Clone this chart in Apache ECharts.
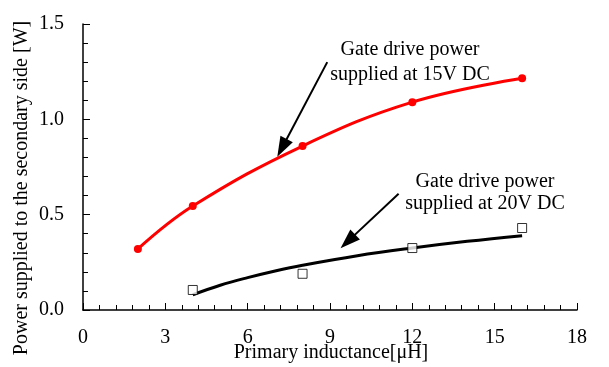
<!DOCTYPE html>
<html><head><meta charset="utf-8">
<script src="https://cdn.jsdelivr.net/npm/echarts@6/dist/echarts.min.js"></script>
<style>html,body{margin:0;padding:0;background:#fff}#c{width:609px;height:367px}</style>
</head><body><div id="c"></div>
<script>
const xTicks = [0, 3, 6, 9, 12, 15, 18];
const yTicks = [0.0, 0.5, 1.0, 1.5];
const red15X = [2, 4, 8, 12, 16];
const red15Y = [0.32, 0.545, 0.86, 1.09, 1.215];
const sq20X = [4, 8, 12, 16];
const sq20Y = [0.105, 0.19, 0.325, 0.43];
const fit20X = [4, 5, 6, 7, 8, 10, 12, 14, 16];
const fit20Y = [0.08, 0.13, 0.17, 0.205, 0.235, 0.285, 0.325, 0.36, 0.39];
const arrow15 = [[8.9, 1.30], [7.25, 0.85]];
const arrow20 = [[11.5, 0.61], [9.65, 0.36]];
const note15 = ['Gate drive power', 'supplied at 15V DC'];
const note20 = ['Gate drive power', 'supplied at 20V DC'];
const xName = 'Primary inductance[μH]';
const yName = 'Power supplied to the secondary side [W]';

const FONT = "'Liberation Serif','Times New Roman',serif";
const chart = echarts.init(document.getElementById('c'), null, {renderer: 'canvas'});
const zip = (a, b) => a.map((v, i) => [v, b[i]]);
const arrowLine = (pts) => ({
  silent: true, symbol: ['none', 'triangle'], symbolSize: [14, 20],
  lineStyle: {color: '#000', width: 2, type: 'solid'}, label: {show: false},
  data: [[{coord: pts[0]}, {coord: pts[1]}]]
});
chart.setOption({
  animation: false,
  grid: {left: 83, right: 32, top: 24, bottom: 57, containLabel: false, outerBoundsMode: 'none'},
  xAxis: {
    type: 'value', min: xTicks[0], max: xTicks[xTicks.length - 1], interval: 3,
    axisLine: {show: true, lineStyle: {color: '#000', width: 1.5}},
    axisTick: {show: true, inside: true, length: 7, lineStyle: {color: '#000', width: 1}},
    minorTick: {show: true, splitNumber: 5, length: 5, lineStyle: {color: '#000', width: 1}},
    axisLabel: {fontFamily: FONT, fontSize: 20, color: '#000', margin: 18},
    splitLine: {show: false}
  },
  yAxis: {
    type: 'value', min: yTicks[0], max: yTicks[yTicks.length - 1], interval: 0.5,
    axisLine: {show: true, lineStyle: {color: '#000', width: 1.5}},
    axisTick: {show: true, inside: true, length: 7, lineStyle: {color: '#000', width: 1}},
    minorTick: {show: true, splitNumber: 5, length: 5, lineStyle: {color: '#000', width: 1}},
    axisLabel: {fontFamily: FONT, fontSize: 20, color: '#000', margin: 19,
      formatter: v => v.toFixed(1)},
    splitLine: {show: false}
  },
  series: [
    {type: 'line', data: zip(red15X, red15Y), smooth: 0.4, symbol: 'circle', symbolSize: 8,
     lineStyle: {color: '#ff0000', width: 3}, itemStyle: {color: '#ff0000'},
     markLine: arrowLine(arrow15)},
    {type: 'line', data: zip(fit20X, fit20Y), smooth: 0.4, showSymbol: false,
     lineStyle: {color: '#000', width: 3}, markLine: arrowLine(arrow20)},
    {type: 'scatter', data: zip(sq20X, sq20Y), symbol: 'rect', symbolSize: 9,
     itemStyle: {color: '#fff', borderColor: '#000', borderWidth: 1}, z: 5}
  ],
  graphic: [
    {type: 'text', x: 22, y: 188, rotation: Math.PI / 2,
     style: {text: yName, font: '20px ' + FONT, fill: '#000', align: 'center', verticalAlign: 'middle'}},
    {type: 'text', x: 331, y: 353,
     style: {text: xName, font: '20px ' + FONT, fill: '#000', align: 'center', verticalAlign: 'middle'}},
    {type: 'text', x: 410, y: 37, style: {text: note15.join('\n'), font: '20px ' + FONT, fill: '#000',
      align: 'center', verticalAlign: 'top', lineHeight: 25}},
    {type: 'text', x: 485, y: 171, style: {text: note20.join('\n'), font: '20px ' + FONT, fill: '#000',
      align: 'center', verticalAlign: 'top', lineHeight: 22}}
  ]
});
</script></body></html>
